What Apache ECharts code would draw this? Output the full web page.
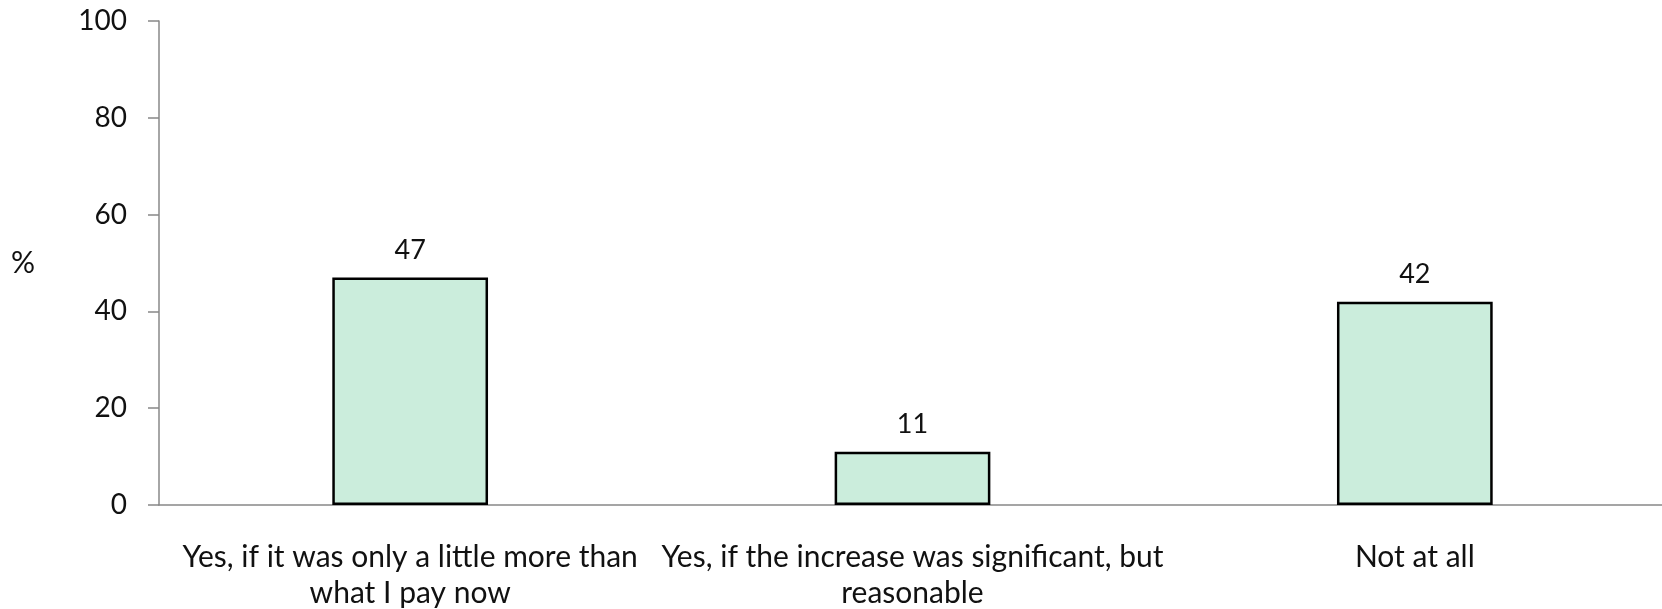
<!DOCTYPE html>
<html lang="en">
<head>
  <meta charset="UTF-8">
  <title>Willingness to pay more</title>
  <script src="https://cdn.jsdelivr.net/npm/echarts@6/dist/echarts.min.js"></script>
  <style>
    html, body { margin: 0; padding: 0; background: #fff; }
    #chart { width: 1662px; height: 609px; }
  </style>
</head>
<body>
  <div id="chart"></div>
  <script>
    var categories = [
      'Yes, if it was only a little more than\nwhat I pay now',
      'Yes, if the increase was significant, but\nreasonable',
      'Not at all'
    ];
    var percents = [47, 11, 42];
    var yTicks = [0, 20, 40, 60, 80, 100];

    var font = 'Lato, "Open Sans", sans-serif';
    var oChart = echarts.init(document.getElementById('chart'));
    var opt = {
      animation: false,
      grid: {
        left: 159,
        right: -4,
        top: 21,
        bottom: 104,
        containLabel: false,
        outerBoundsMode: 'none'
      },
      xAxis: {
        type: 'category',
        data: categories,
        axisLine: { lineStyle: { color: '#888', width: 1.5 } },
        axisTick: { show: false },
        axisLabel: {
          interval: 0,
          margin: 34,
          color: '#111',
          fontFamily: font,
          fontSize: 30,
          lineHeight: 36
        }
      },
      yAxis: {
        type: 'value',
        min: yTicks[0],
        max: yTicks[yTicks.length - 1],
        interval: 20,
        name: '%',
        nameLocation: 'middle',
        nameRotate: 0,
        nameGap: 124,
        nameTextStyle: { color: '#111', fontFamily: font, fontSize: 30 },
        axisLine: { show: true, lineStyle: { color: '#888', width: 1.5 } },
        axisTick: { show: true, length: 11, lineStyle: { color: '#888', width: 1.5 } },
        splitLine: { show: false },
        axisLabel: {
          margin: 32,
          color: '#111',
          fontFamily: font,
          fontSize: 28
        }
      },
      series: [{
        type: 'bar',
        data: percents,
        barCategoryGap: '69%',
        itemStyle: {
          color: '#cbeddc',
          borderColor: '#000',
          borderWidth: 2.5
        },
        label: {
          show: true,
          position: 'top',
          distance: 14,
          color: '#111',
          fontFamily: font,
          fontSize: 27
        }
      }]
    };
    oChart.setOption(opt);
  </script>
</body>
</html>
